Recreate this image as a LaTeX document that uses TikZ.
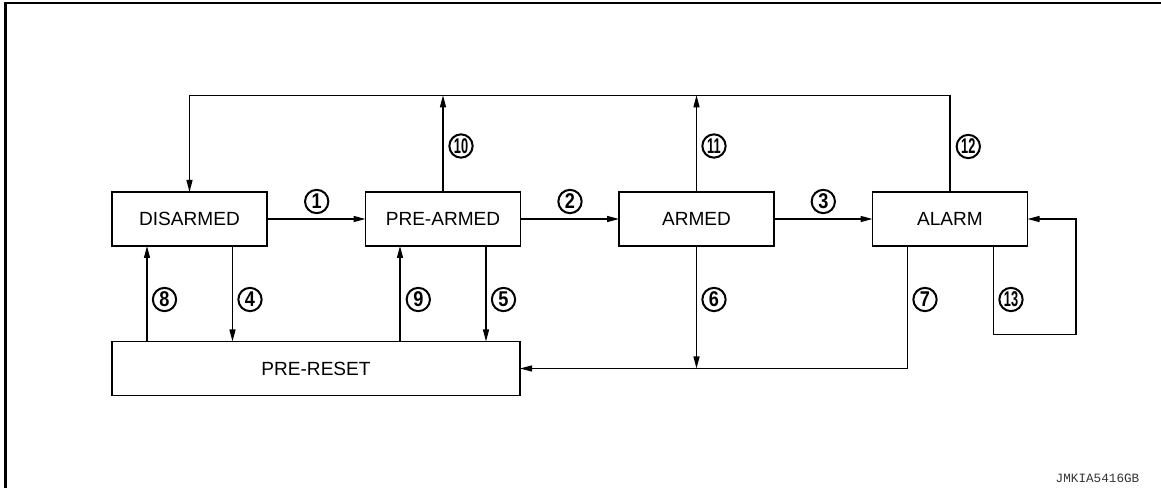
\documentclass[tikz,border=0pt]{standalone}
\usepackage{fontspec}
\setmainfont{Liberation Sans}
\newfontfamily\codefont{Liberation Mono}
\usepackage{graphicx}
\usetikzlibrary{arrows.meta}
\newcommand{\onedig}[1]{\scalebox{0.85}[1]{#1}}
\newcommand{\twodig}[1]{\scalebox{0.6}[1]{#1}}
\begin{document}
\begin{tikzpicture}[x=0.75pt,y=-0.75pt,
  box/.style={draw,line width=1pt,minimum width=116.25pt,minimum height=40.5pt,inner sep=0pt,outer sep=0pt,font=\fontsize{14.3}{15}\selectfont},
  conn/.style={line width=1pt},
  arr/.style={conn,-{Triangle[length=9pt,width=4.5pt]}},
  num/.style={circle,draw,line width=1.5pt,minimum size=17.5pt,inner sep=0pt,font=\fontsize{16}{16}\selectfont\bfseries}]
\useasboundingbox (0,0) rectangle (1161,488);
\draw[line width=2.25pt] (5.5,488) -- (5.5,1.8);
\draw[line width=1.8pt] (4.3,2.8) -- (1161,2.8);
% states
\node[box] (dis) at (189.5,219) {DISARMED};
\node[box] (pre) at (443,219) {PRE-ARMED};
\node[box] (arm) at (696.5,219) {ARMED};
\node[box] (alm) at (950,219) {ALARM};
\node[box,minimum width=306pt] (res) at (316,368.5) {PRE-RESET};
% helper coordinates
\coordinate (bus) at (0,95.3);
\coordinate (x8) at (147,0);
\coordinate (x4) at (232.5,0);
\coordinate (x9) at (400,0);
\coordinate (x5) at (486,0);
\coordinate (x7) at (907.5,0);
\coordinate (x13) at (993.5,0);
\coordinate (r13) at (1076,334.5);
% connectors
\draw[arr] (alm.north) -- (alm.north |- bus) -| (dis.north);
\draw[arr] (pre.north) -- (pre.north |- bus);
\draw[arr] (arm.north) -- (arm.north |- bus);
\draw[arr] (dis.east) -- (pre.west);
\draw[arr] (pre.east) -- (arm.west);
\draw[arr] (arm.east) -- (alm.west);
\draw[arr] (x8 |- res.north) -- (x8 |- dis.south);
\draw[arr] (x4 |- dis.south) -- (x4 |- res.north);
\draw[arr] (x9 |- res.north) -- (x9 |- pre.south);
\draw[arr] (x5 |- pre.south) -- (x5 |- res.north);
\draw[arr] (arm.south) -- (arm.south |- res.east);
\draw[arr] (x7 |- alm.south) |- (res.east);
\draw[arr] (x13 |- alm.south) |- (r13) |- (alm.east);
% labels
\node[num] (l1) at (316.7,201.5) {\onedig{1}};
\node[num] (l2) at (570,201.5) {\onedig{2}};
\node[num] (l3) at (823.3,201.5) {\onedig{3}};
\node[num] (l4) at (250,299.5) {\onedig{4}};
\node[num] (l5) at (503.5,299.5) {\onedig{5}};
\node[num] (l6) at (714,299.5) {\onedig{6}};
\node[num] (l7) at (925,299.5) {\onedig{7}};
\node[num] (l8) at (164.5,299.5) {\onedig{8}};
\node[num] (l9) at (418.3,299.5) {\onedig{9}};
\node[num] (l10) at (461,146) {\twodig{10}};
\node[num] (l11) at (714,146) {\twodig{11}};
\node[num] (l12) at (968.3,146.5) {\twodig{12}};
\node[num] (l13) at (1011,299.5) {\twodig{13}};
\node[font=\codefont\fontsize{9.5}{10}\selectfont,text=black!80,inner sep=0pt] (code) at (1097.5,478) {JMKIA5416GB};
\end{tikzpicture}
\end{document}
